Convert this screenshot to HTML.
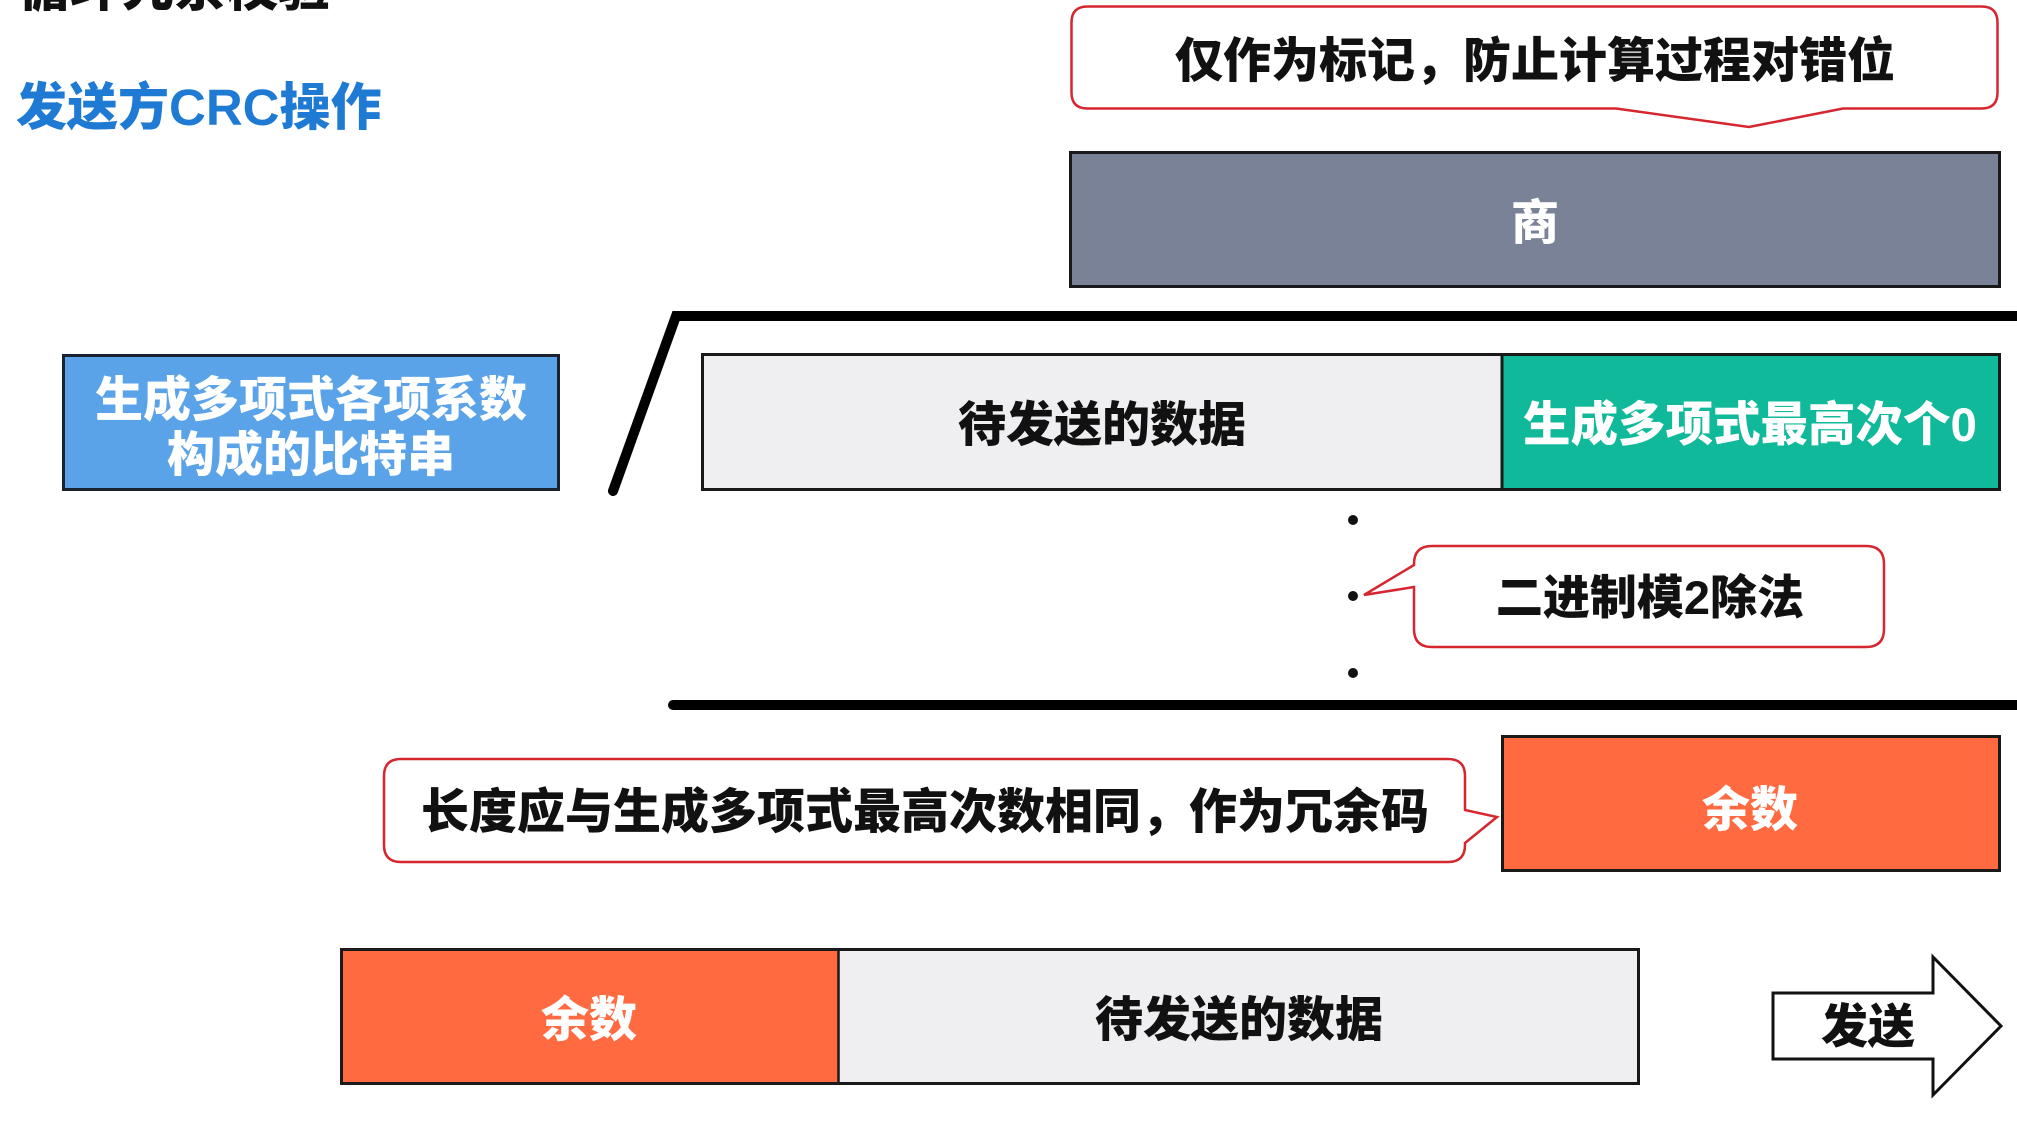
<!DOCTYPE html>
<html>
<head>
<meta charset="utf-8">
<style>
  html,body{margin:0;padding:0;background:#fff;}
  body{width:2017px;height:1125px;overflow:hidden;}
  svg{display:block;}
  text{font-family:"Liberation Sans","Noto Sans CJK SC","WenQuanYi Zen Hei",sans-serif;font-weight:900;}
</style>
</head>
<body>
<svg width="2017" height="1125" viewBox="0 0 2017 1125" xmlns="http://www.w3.org/2000/svg">
  <rect x="0" y="0" width="2017" height="1125" fill="#ffffff"/>

  <!-- Titles -->
  <text x="18" y="6" font-size="52" fill="#111111">循环冗余校验</text>
  <text x="16" y="125" font-size="51" fill="#1F7AD4">发送方CRC操作</text>

  <!-- Top callout -->
  <path d="M1087.5,6.5 H1981.5 Q1997.5,6.5 1997.5,22.5 V92.5 Q1997.5,108.5 1981.5,108.5 H1843 L1749,127 L1616,108.5 H1087.5 Q1071.5,108.5 1071.5,92.5 V22.5 Q1071.5,6.5 1087.5,6.5 Z"
        fill="#ffffff" stroke="#D6262F" stroke-width="2.5"/>
  <text x="1535" y="77" font-size="48" fill="#111111" text-anchor="middle">仅作为标记，防止计算过程对错位</text>

  <!-- Quotient box -->
  <rect x="1070.5" y="152.5" width="929" height="134" fill="#7A8298" stroke="#1a1a1a" stroke-width="3"/>
  <text x="1535" y="239" font-size="48" fill="#ffffff" text-anchor="middle">商</text>

  <!-- Division bracket line -->
  <polyline points="613,491 676,316 2030,316" fill="none" stroke="#000000" stroke-width="10" stroke-linecap="round" stroke-linejoin="miter"/>

  <!-- Generator polynomial box -->
  <rect x="63.5" y="355.5" width="495" height="134" fill="#5BA3E9" stroke="#1a2230" stroke-width="3"/>
  <text x="311" y="416" font-size="48" fill="#ffffff" text-anchor="middle">生成多项式各项系数</text>
  <text x="311" y="471" font-size="48" fill="#ffffff" text-anchor="middle">构成的比特串</text>

  <!-- Dividend box -->
  <rect x="702.5" y="354.5" width="801" height="135" fill="#EFEEF1"/>
  <rect x="1503" y="354.5" width="496.5" height="135" fill="#0FB99A"/>
  <rect x="702.5" y="354.5" width="1297" height="135" fill="none" stroke="#1a1a1a" stroke-width="3"/>
  <line x1="1502" y1="354" x2="1502" y2="490" stroke="#1a1a1a" stroke-width="3"/>
  <text x="1102" y="441" font-size="48" fill="#111111" text-anchor="middle">待发送的数据</text>
  <text x="1750" y="441" font-size="47.5" fill="#ffffff" text-anchor="middle">生成多项式最高次个0</text>

  <!-- Dots -->
  <circle cx="1353" cy="520" r="5" fill="#111"/>
  <circle cx="1353" cy="596" r="5" fill="#111"/>
  <circle cx="1353" cy="673" r="5" fill="#111"/>

  <!-- Mod-2 division callout -->
  <path d="M1432,546 H1866 Q1884,546 1884,564 V629 Q1884,647 1866,647 H1432 Q1414,647 1414,629 V587 L1364,595 L1414,565 V564 Q1414,546 1432,546 Z"
        fill="#ffffff" stroke="#D6262F" stroke-width="2.5"/>
  <text x="1650" y="614" font-size="47" fill="#111111" text-anchor="middle">二进制模2除法</text>

  <!-- Bottom division line -->
  <line x1="673" y1="705" x2="2030" y2="705" stroke="#000000" stroke-width="10" stroke-linecap="round"/>

  <!-- Remainder callout -->
  <path d="M401,759 H1448 Q1465,759 1465,776 V810 L1497,817 L1465,843 V845 Q1465,862 1448,862 H401 Q384,862 384,845 V776 Q384,759 401,759 Z"
        fill="#ffffff" stroke="#D6262F" stroke-width="2.5"/>
  <text x="925" y="828" font-size="48" fill="#111111" text-anchor="middle">长度应与生成多项式最高次数相同，作为冗余码</text>

  <!-- Remainder box -->
  <rect x="1502.5" y="736.5" width="497" height="134" fill="#FF6A41" stroke="#1a1a1a" stroke-width="3"/>
  <text x="1750" y="826" font-size="48" fill="#ffffff" text-anchor="middle">余数</text>

  <!-- Final frame -->
  <rect x="341.5" y="949.5" width="497" height="134" fill="#FF6A41"/>
  <rect x="838.5" y="949.5" width="800" height="134" fill="#EFEEF1"/>
  <rect x="341.5" y="949.5" width="1297" height="134" fill="none" stroke="#1a1a1a" stroke-width="3"/>
  <line x1="838.5" y1="949" x2="838.5" y2="1084" stroke="#1a1a1a" stroke-width="2.5"/>
  <text x="589" y="1036" font-size="48" fill="#ffffff" text-anchor="middle">余数</text>
  <text x="1239" y="1036" font-size="48" fill="#111111" text-anchor="middle">待发送的数据</text>

  <!-- Send arrow -->
  <polygon points="1773,993 1933,993 1933,957 2001,1026 1933,1095 1933,1059 1773,1059" fill="#ffffff" stroke="#111111" stroke-width="3" stroke-linejoin="miter"/>
  <text x="1868" y="1043" font-size="47" fill="#111111" text-anchor="middle">发送</text>
</svg>
</body>
</html>
